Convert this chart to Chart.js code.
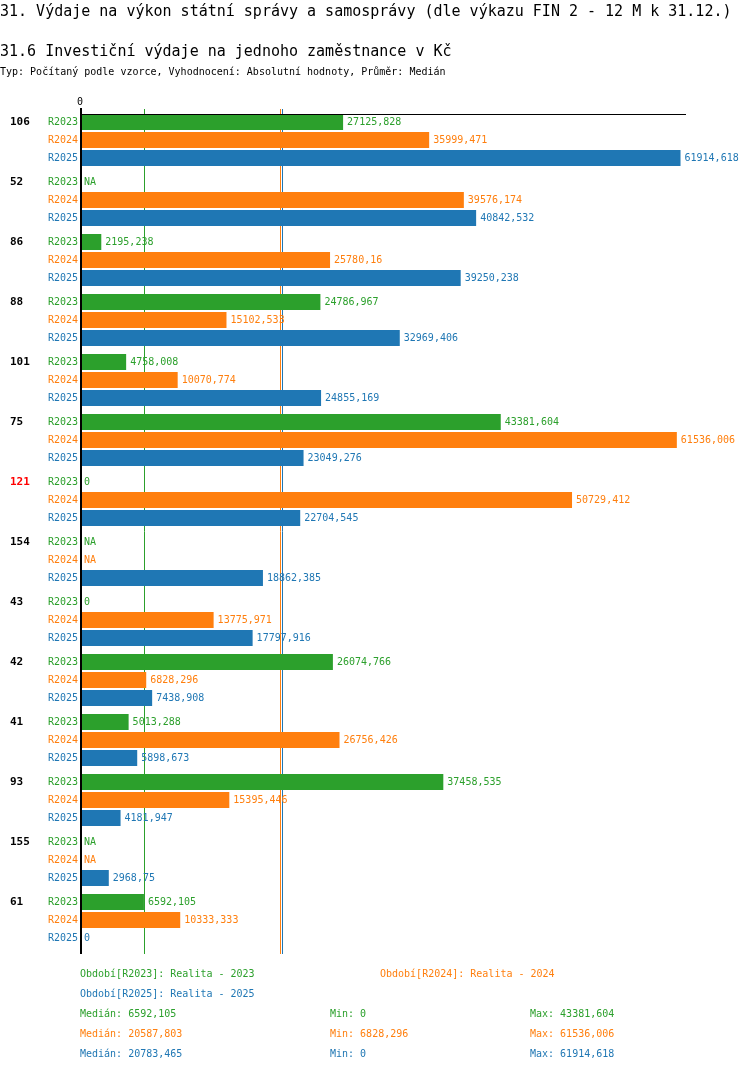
<!DOCTYPE html>
<html>
<head>
<meta charset="utf-8">
<script src="https://cdn.jsdelivr.net/npm/chart.js@4/dist/chart.umd.min.js"></script>
<style>
  html, body { margin: 0; padding: 0; background: #fff; }
  #wrap { position: relative; width: 750px; height: 1074px; overflow: hidden; font-family: "DejaVu Sans Mono", monospace; }
  #c { position: absolute; left: 0; top: 0; }
  .t { position: absolute; white-space: pre; line-height: 1; }
</style>
</head>
<body>
<div id="wrap">
  <canvas id="c" width="750" height="1074"></canvas>
  <div class="t" id="title" style="left:0;top:4px;font-size:15px;">31. Výdaje na výkon státní správy a samosprávy (dle výkazu FIN 2 - 12 M k 31.12.)</div>
  <div class="t" id="sub" style="left:0;top:44px;font-size:15px;">31.6 Investiční výdaje na jednoho zaměstnance v Kč</div>
  <div class="t" id="typ" style="left:0;top:67px;font-size:10px;">Typ: Počítaný podle vzorce, Vyhodnocení: Absolutní hodnoty, Průměr: Medián</div>
  <div id="legend"></div>
</div>
<script>
const groups = ['106','52','86','88','101','75','121','154','43','42','41','93','155','61'];
const highlightGroups = ['121'];
const seriesNames = ['R2023','R2024','R2025'];
const seriesTitles = ['Realita - 2023','Realita - 2024','Realita - 2025'];
const seriesColors = ['#2ca02c','#ff7f0e','#1f77b4'];
const r2023 = [27125.828, null, 2195.238, 24786.967, 4758.008, 43381.604, 0, null, 0, 26074.766, 5013.288, 37458.535, null, 6592.105];
const r2024 = [35999.471, 39576.174, 25780.16, 15102.533, 10070.774, 61536.006, 50729.412, null, 13775.971, 6828.296, 26756.426, 15395.446, null, 10333.333];
const r2025 = [61914.618, 40842.532, 39250.238, 32969.406, 24855.169, 23049.276, 22704.545, 18862.385, 17797.916, 7438.908, 5898.673, 4181.947, 2968.75, 0];
const medians = [6592.105, 20587.803, 20783.465];
const mins = [0, 6828.296, 0];
const maxes = [43381.604, 61536.006, 61914.618];
const xMax = 62480;

const seriesData = [r2023, r2024, r2025];
const fmt = v => (v === null || v === undefined) ? 'NA' : String(v).replace('.', ',');
const FONT = '"DejaVu Sans Mono", monospace';

// legend in HTML
(function(){
  const lg = document.getElementById('legend');
  const add = (txt, x, yc, color) => {
    const d = document.createElement('div');
    d.className = 't';
    d.style.left = x + 'px';
    d.style.top = (yc - 6) + 'px';
    d.style.fontSize = '10px';
    d.style.color = color;
    d.textContent = txt;
    lg.appendChild(d);
  };
  add('Období[' + seriesNames[0] + ']: ' + seriesTitles[0], 80, 975, seriesColors[0]);
  add('Období[' + seriesNames[1] + ']: ' + seriesTitles[1], 380, 975, seriesColors[1]);
  add('Období[' + seriesNames[2] + ']: ' + seriesTitles[2], 80, 995, seriesColors[2]);
  for (let i = 0; i < 3; i++) {
    const y = 1015 + i * 20;
    add('Medián: ' + fmt(medians[i]), 80, y, seriesColors[i]);
    add('Min: ' + fmt(mins[i]), 330, y, seriesColors[i]);
    add('Max: ' + fmt(maxes[i]), 530, y, seriesColors[i]);
  }
})();

const overlay = {
  id: 'overlay',
  beforeDatasetsDraw(chart) {
    const ctx = chart.ctx, xs = chart.scales.x, ca = chart.chartArea;
    ctx.save();
    ctx.lineWidth = 1;
    medians.forEach((m, i) => {
      const x = Math.round(xs.getPixelForValue(m)) + 0.5;
      ctx.strokeStyle = seriesColors[i];
      ctx.beginPath();
      ctx.moveTo(x, ca.top - 1);
      ctx.lineTo(x, ca.bottom + 4);
      ctx.stroke();
    });
    ctx.restore();
  },
  afterDatasetsDraw(chart) {
    const ctx = chart.ctx, xs = chart.scales.x, ys = chart.scales.y, ca = chart.chartArea;
    const x0 = xs.getPixelForValue(0);
    ctx.save();
    // axes
    ctx.fillStyle = '#000';
    ctx.fillRect(x0, ca.top + 4, ca.right - x0, 1);
    ctx.fillRect(x0, ca.top - 2, 2, ca.bottom + 4 - (ca.top - 2));
    ctx.font = '10px ' + FONT;
    ctx.textAlign = 'center';
    ctx.textBaseline = 'middle';
    ctx.fillText('0', x0, ca.top - 8);

    const band = ys.getPixelForValue(1) - ys.getPixelForValue(0);
    const slot = band * 0.9 / 3;
    groups.forEach((g, j) => {
      const c = ys.getPixelForValue(j);
      // group label
      ctx.font = 'bold 11px ' + FONT;
      ctx.textAlign = 'left';
      ctx.fillStyle = highlightGroups.includes(g) ? '#ff0000' : '#000';
      ctx.fillText(g, 10, c - slot);
      for (let i = 0; i < 3; i++) {
        const y = c + (i - 1) * slot;
        ctx.font = '10px ' + FONT;
        ctx.fillStyle = seriesColors[i];
        ctx.textAlign = 'right';
        ctx.fillText(seriesNames[i], 78, y);
        const v = seriesData[i][j];
        const xe = xs.getPixelForValue(v === null ? 0 : v);
        ctx.textAlign = 'left';
        ctx.fillText(fmt(v), xe + 4, y);
      }
    });
    ctx.restore();
  }
};

new Chart(document.getElementById('c'), {
  type: 'bar',
  data: {
    labels: groups,
    datasets: seriesData.map((d, i) => ({
      label: seriesNames[i],
      data: d,
      backgroundColor: seriesColors[i],
      borderWidth: 0,
      categoryPercentage: 0.9,
      barPercentage: 16 / 18
    }))
  },
  options: {
    indexAxis: 'y',
    responsive: false,
    animation: false,
    layout: { padding: { left: 80, right: 64, top: 110, bottom: 124 } },
    scales: {
      x: { type: 'linear', min: 0, max: xMax, display: false },
      y: { type: 'category', display: false, offset: true, grid: { display: false } }
    },
    plugins: { legend: { display: false }, tooltip: { enabled: false }, title: { display: false } }
  },
  plugins: [overlay]
});
</script>
</body>
</html>
